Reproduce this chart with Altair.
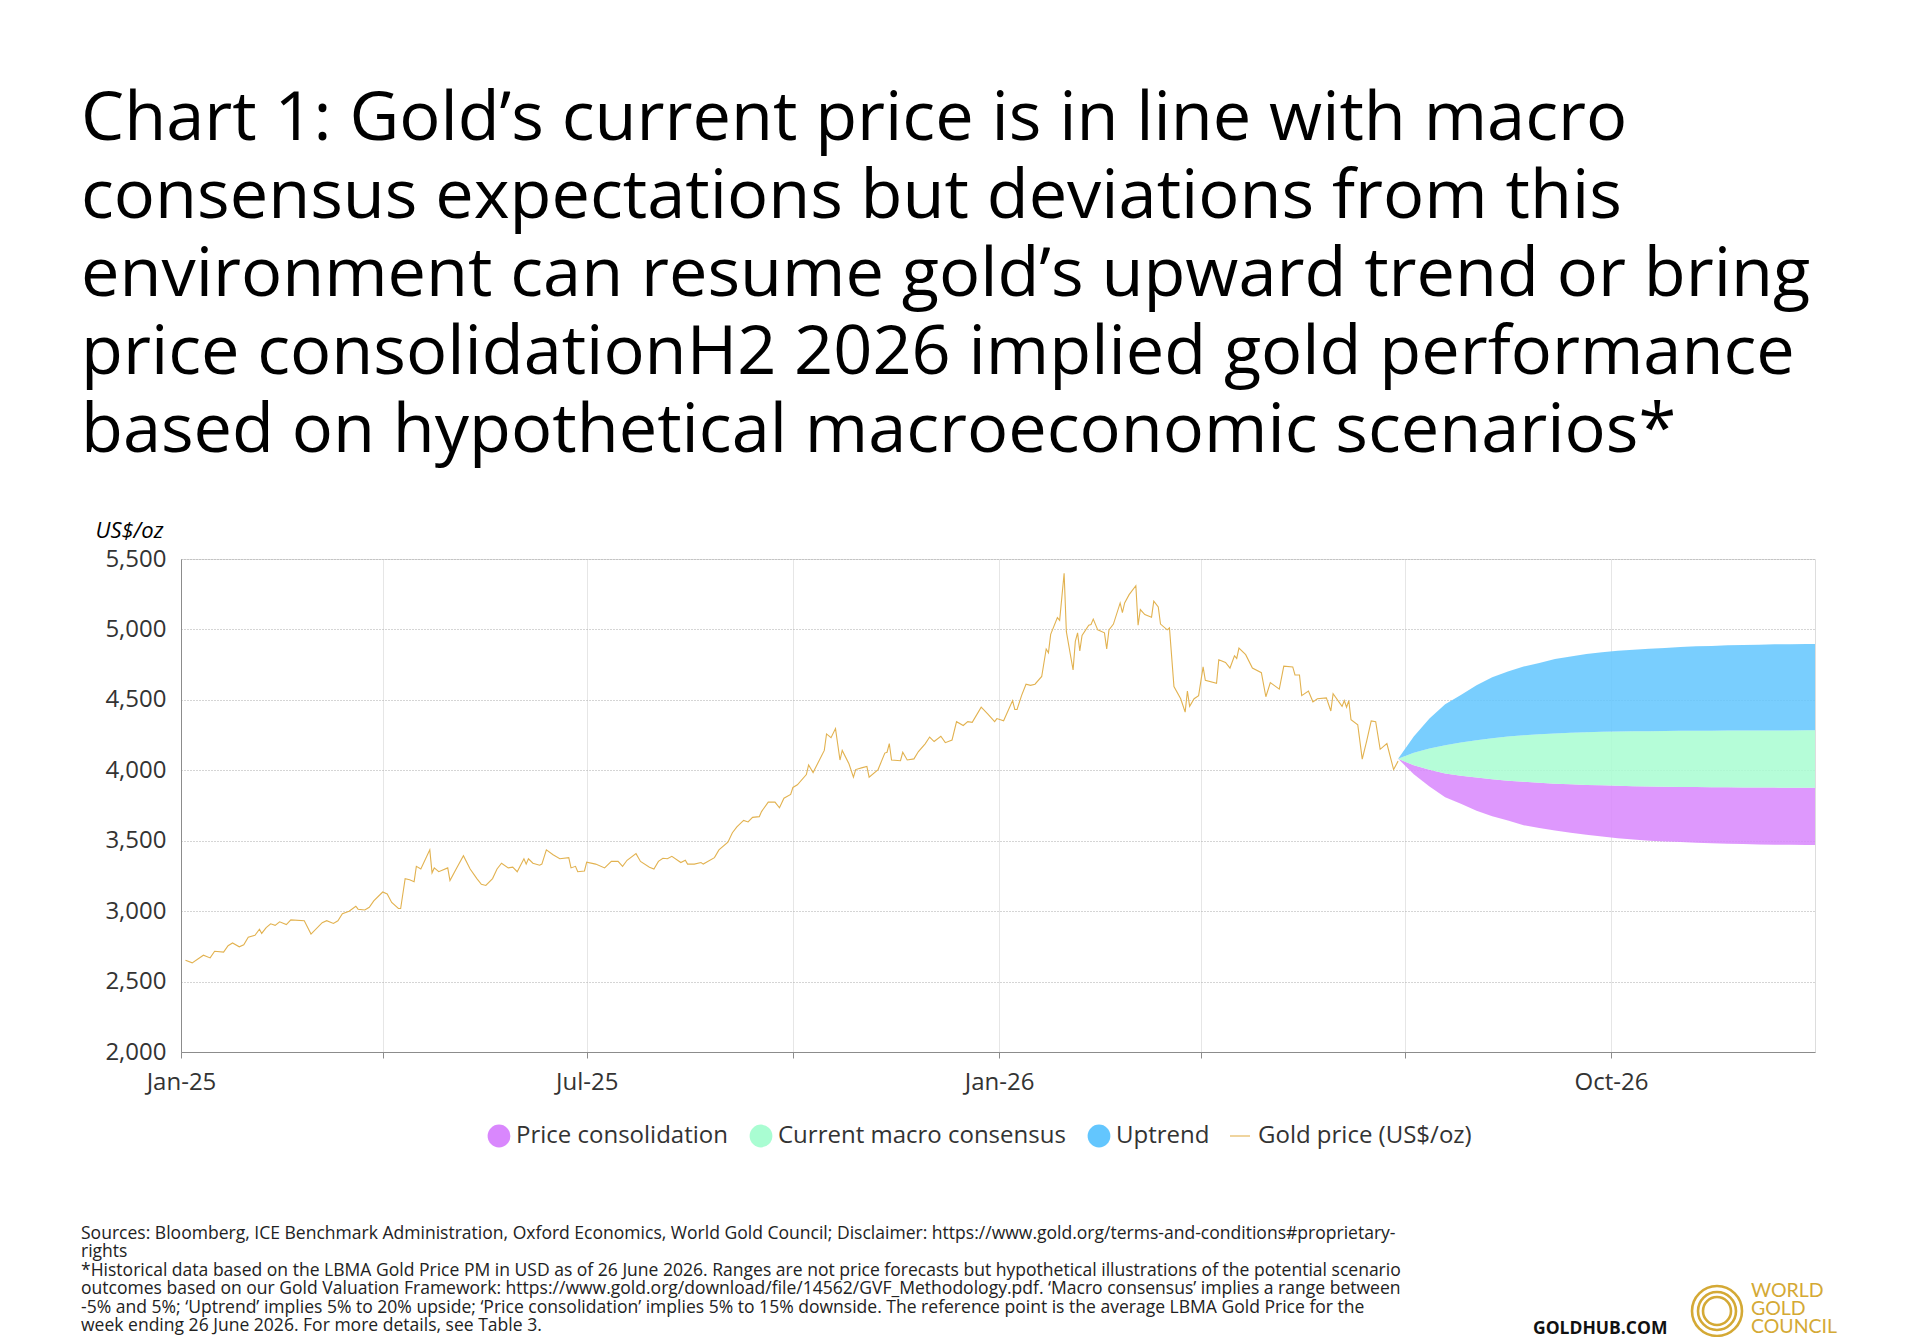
import altair as alt
import pandas as pd

# ---------------- data ----------------
title_lines = [
    "Chart 1: Gold\u2019s current price is in line with macro",
    "consensus expectations but deviations from this",
    "environment can resume gold\u2019s upward trend or bring",
    "price consolidationH2 2026 implied gold performance",
    "based on hypothetical macroeconomic scenarios*",
]

# historical gold price: days since 2025-01-01 and US$/oz
hist_days = [2, 5, 10, 13, 15, 19, 21, 23, 26, 28, 30, 33, 35, 36, 38, 40, 42, 44, 47, 49,
             55, 58, 63, 65, 68, 70, 72, 75, 78, 79, 82, 84, 86, 90, 92, 94, 97, 98, 100, 102,
             104, 105, 107, 111, 112, 113, 115, 119, 120, 123, 126, 129, 132, 134, 136, 139, 141, 143, 146, 148,
             150, 153, 154, 155, 157, 160, 161, 163, 166, 169, 173, 174, 176, 177, 180, 181, 185, 189, 192, 195,
             197, 199, 203, 205, 209, 211, 213, 215, 217, 219, 223, 225, 226, 229, 232, 233, 238, 240, 244, 246,
             248, 251, 253, 255, 258, 259, 262, 265, 267, 269, 272, 273, 275, 279, 280, 282, 287, 288, 290, 292,
             294, 295, 298, 300, 301, 304, 306, 307, 311, 314, 315, 316, 317, 321, 322, 324, 327, 329, 332, 334,
             336, 339, 341, 344, 346, 349, 351, 353, 357, 360, 363, 364, 367, 371, 372, 373, 375, 377, 379, 381,
             384, 386, 387, 388, 391, 392, 394, 395, 398, 399, 400, 401, 402, 405, 406, 407, 409, 412, 413, 414,
             416, 419, 420, 421, 423, 426, 427, 428, 430, 433, 434, 436, 437, 440, 441, 443, 446, 448, 449, 450,
             452, 454, 456, 457, 462, 463, 466, 468, 470, 471, 472, 475, 478, 482, 484, 486, 490, 492, 496, 497,
             499, 500, 503, 505, 507, 511, 513, 514, 518, 519, 520, 521, 522, 525, 527, 529, 531, 533, 535, 538,
             541, 543]
hist_price = [2652, 2633, 2687, 2668, 2715, 2709, 2755, 2774, 2747, 2761, 2815, 2829, 2872, 2842, 2883, 2910, 2899, 2924, 2905, 2938,
              2932, 2837, 2918, 2932, 2913, 2932, 2981, 3000, 3035, 3014, 3008, 3027, 3073, 3136, 3122, 3062, 3019, 3019, 3231, 3223,
              3209, 3318, 3299, 3435, 3272, 3307, 3280, 3307, 3217, 3307, 3394, 3299, 3231, 3190, 3182, 3231, 3299, 3340, 3307, 3312,
              3280, 3372, 3334, 3372, 3340, 3326, 3334, 3435, 3400, 3372, 3380, 3307, 3318, 3280, 3285, 3348, 3334, 3307, 3353, 3353,
              3318, 3361, 3408, 3353, 3312, 3299, 3353, 3375, 3372, 3389, 3345, 3361, 3334, 3334, 3345, 3334, 3380, 3435, 3489, 3557,
              3598, 3644, 3633, 3666, 3671, 3707, 3774, 3774, 3734, 3802, 3829, 3878, 3897, 3970, 4038, 3984, 4141, 4258, 4231, 4296,
              4073, 4141, 4046, 3951, 4005, 4019, 4027, 3951, 4005, 4122, 4128, 4190, 4073, 4068, 4128, 4073, 4081, 4133, 4188, 4236,
              4204, 4242, 4196, 4215, 4345, 4318, 4345, 4340, 4448, 4399, 4345, 4367, 4351, 4495, 4432, 4432, 4530, 4611, 4603, 4611,
              4666, 4861, 4834, 4965, 5084, 5065, 5399, 4984, 4712, 4916, 4976, 4848, 4957, 5030, 5035, 5073, 4997, 4976, 4861, 4997,
              5038, 5188, 5120, 5188, 5247, 5310, 5030, 5141, 5106, 5087, 5201, 5160, 5038, 4997, 5011, 4595, 4508, 4413, 4563, 4454,
              4508, 4530, 4734, 4639, 4617, 4785, 4766, 4726, 4813, 4794, 4867, 4821, 4726, 4693, 4522, 4622, 4576, 4739, 4734, 4677,
              4677, 4530, 4563, 4486, 4508, 4514, 4421, 4543, 4454, 4495, 4448, 4495, 4359, 4323, 4079, 4209, 4351, 4345, 4149, 4190,
              4005, 4065]

proj_dates = ["2026-06-28", "2026-07-05", "2026-07-12", "2026-07-19", "2026-07-26", "2026-08-02", "2026-08-09",
              "2026-08-16", "2026-08-23", "2026-08-30", "2026-09-06", "2026-09-13", "2026-09-20", "2026-09-27",
              "2026-10-04", "2026-10-11", "2026-10-18", "2026-10-25", "2026-11-01", "2026-11-08", "2026-11-15",
              "2026-11-22", "2026-11-29", "2026-12-06", "2026-12-13", "2026-12-20", "2026-12-27", "2026-12-31"]
uptrend_hi = [4082, 4240, 4368, 4468, 4535, 4603, 4660, 4702, 4737, 4762, 4790, 4808, 4825, 4838,
              4848, 4856, 4863, 4869, 4875, 4880, 4883, 4887, 4889, 4892, 4894, 4895, 4896, 4897]
consensus_hi = [4082, 4125, 4155, 4178, 4198, 4214, 4228, 4239, 4248, 4256, 4261, 4266, 4270, 4273,
                4275, 4277, 4278, 4279, 4280, 4281, 4281, 4282, 4282, 4283, 4283, 4283, 4284, 4284]
consensus_lo = [4082, 4035, 4003, 3978, 3962, 3948, 3936, 3926, 3918, 3911, 3905, 3900, 3896, 3893,
                3890, 3887, 3885, 3883, 3882, 3881, 3880, 3879, 3878, 3877, 3877, 3876, 3876, 3876]
consolidation_lo = [4082, 3972, 3885, 3808, 3762, 3712, 3674, 3643, 3610, 3590, 3572, 3556, 3542, 3530,
                    3518, 3508, 3500, 3495, 3490, 3486, 3482, 3479, 3476, 3474, 3472, 3471, 3470, 3469]

scenario_names = ["Price consolidation", "Current macro consensus", "Uptrend"]
scenario_colors = ["#D987FD", "#A9FDD2", "#63C6FE"]
gold_label = "Gold price (US$/oz)"
gold_color = "#E2B250"

x_tick_dates = ["2025-01-01", "2025-04-01", "2025-07-01", "2025-10-01", "2026-01-01",
                "2026-04-01", "2026-07-01", "2026-10-01"]
x_labels_shown = ["Jan-25", "Jul-25", "Jan-26", "Oct-26"]
y_ticks = [2000, 2500, 3000, 3500, 4000, 4500, 5000, 5500]

footer_lines = [
    "Sources: Bloomberg, ICE Benchmark Administration, Oxford Economics, World Gold Council; Disclaimer: https://www.gold.org/terms-and-conditions#proprietary-",
    "rights",
    "*Historical data based on the LBMA Gold Price PM in USD as of 26 June 2026. Ranges are not price forecasts but hypothetical illustrations of the potential scenario",
    "outcomes based on our Gold Valuation Framework: https://www.gold.org/download/file/14562/GVF_Methodology.pdf. \u2018Macro consensus\u2019 implies a range between",
    "-5% and 5%; \u2018Uptrend\u2019 implies 5% to 20% upside; \u2018Price consolidation\u2019 implies 5% to 15% downside. The reference point is the average LBMA Gold Price for the",
    "week ending 26 June 2026. For more details, see Table 3.",
]
brand_text = "GOLDHUB.COM"
logo_text = ["WORLD", "GOLD", "COUNCIL"]
logo_ring_sizes = [2500, 1444, 784]

# ---------------- tables ----------------
start = pd.Timestamp("2025-01-01")
hist = pd.DataFrame({
    "date": [(start + pd.Timedelta(days=d)).strftime("%Y-%m-%d") for d in hist_days],
    "price": hist_price,
    "series": gold_label,
})
bands = pd.concat([
    pd.DataFrame({"date": proj_dates, "lo": consolidation_lo, "hi": consensus_lo, "scenario": scenario_names[0]}),
    pd.DataFrame({"date": proj_dates, "lo": consensus_lo, "hi": consensus_hi, "scenario": scenario_names[1]}),
    pd.DataFrame({"date": proj_dates, "lo": consensus_hi, "hi": uptrend_hi, "scenario": scenario_names[2]}),
], ignore_index=True)

FONT = "Open Sans"


def dt(s):
    y, m, d = (int(v) for v in s.split("-"))
    return alt.DateTime(year=y, month=m, date=d, utc=True)


x_scale = alt.Scale(type="utc", domain=[dt("2025-01-01"), dt("2026-12-31")], nice=False)
shown = ",".join("'%s'" % s for s in x_labels_shown)
x_axis = alt.Axis(
    values=[dt(s) for s in x_tick_dates],
    labelExpr="indexof([%s], utcFormat(datum.value, '%%b-%%y')) >= 0 ? utcFormat(datum.value, '%%b-%%y') : ''" % shown,
    title=None, grid=True, gridColor="#e6e6e6", gridWidth=1,
    domainColor="#8c8c8c", tickColor="#8c8c8c", tickSize=6,
    labelFontSize=24, labelColor="#333333", labelFont=FONT, labelPadding=12,
    labelFlush=False,
)
y_scale = alt.Scale(domain=[2000, 5500], nice=False, zero=False)
y_axis = alt.Axis(
    values=y_ticks, format=",.0f", title="US$/oz", titleAngle=0, titleFont=FONT,
    titleFontStyle="italic", titleFontWeight="normal", titleFontSize=22, titleColor="#000000",
    titleAlign="left", titleBaseline="alphabetic", titleX=-86, titleY=-22,
    grid=True, gridColor="#aaaaaa", gridDash=[1, 2], gridWidth=1,
    domainColor="#8c8c8c", ticks=False, labelPadding=15,
    labelFontSize=24, labelColor="#333333", labelFont=FONT,
)

areas = alt.Chart(bands).mark_area(fillOpacity=0.86, interpolate="linear").encode(
    x=alt.X("date:T", scale=x_scale, axis=x_axis),
    y=alt.Y("lo:Q", scale=y_scale, axis=y_axis),
    y2="hi:Q",
    color=alt.Color(
        "scenario:N",
        scale=alt.Scale(domain=scenario_names, range=scenario_colors),
        legend=alt.Legend(
            title=None, orient="none", direction="horizontal", legendX=306, legendY=565,
            symbolType="circle", symbolSize=520, symbolOpacity=1, symbolStrokeWidth=0,
            labelFontSize=24, labelFont=FONT, labelColor="#333333", labelOffset=5,
            labelLimit=500, columnPadding=21, padding=0,
        ),
    ),
)

line = alt.Chart(hist).mark_line(strokeWidth=1.1, interpolate="linear").encode(
    x=alt.X("date:T", scale=x_scale, axis=x_axis),
    y=alt.Y("price:Q", scale=y_scale, axis=y_axis),
    stroke=alt.Stroke(
        "series:N",
        scale=alt.Scale(domain=[gold_label], range=[gold_color]),
        legend=alt.Legend(
            title=None, orient="none", direction="horizontal", legendX=1047, legendY=565,
            symbolType="stroke", symbolSize=400, symbolOpacity=0.55, symbolStrokeWidth=2,
            labelFontSize=24, labelFont=FONT, labelColor="#333333", labelOffset=6,
            labelLimit=500, padding=0,
        ),
    ),
)

footer = alt.Chart(pd.DataFrame({"t": ["\n".join(footer_lines)]})).mark_text(
    align="left", baseline="alphabetic", font=FONT, fontSize=17.55, color="#222222",
    lineBreak="\n", lineHeight=18.4,
).encode(x=alt.value(-100), y=alt.value(680), text="t:N")

brand = alt.Chart(pd.DataFrame({"t": [brand_text]})).mark_text(
    align="left", baseline="alphabetic", font=FONT, fontSize=17.5, fontWeight="bold", color="#111111",
).encode(x=alt.value(1352), y=alt.value(775), text="t:N")

logo_layers = [
    alt.Chart(pd.DataFrame({"t": [word]})).mark_text(
        align="left", baseline="alphabetic", font="Lato", fontSize=19.5, color="#D4A935",
    ).encode(x=alt.value(1570), y=alt.value(737.5 + 18.3 * i), text="t:N")
    for i, word in enumerate(logo_text)
]

rings = alt.Chart(pd.DataFrame({"s": logo_ring_sizes})).mark_point(
    shape="circle", filled=False, color="#D4A935", strokeWidth=2.6, opacity=1,
).encode(x=alt.value(1536), y=alt.value(752), size=alt.Size("s:Q", scale=None, legend=None))

chart = alt.layer(areas, line, footer, brand, *logo_layers, rings).resolve_scale(
    color="independent", stroke="independent"
).properties(
    width=1634, height=493,
    title=alt.TitleParams(
        text=title_lines, anchor="start", frame="bounds", font=FONT, fontSize=68.5,
        fontWeight="normal", color="#000000", lineHeight=78, offset=53,
    ),
    padding={"left": 81, "top": 84, "right": 20, "bottom": 2},
).configure_view(stroke=None).configure(background="white")

chart.save("out.html", embed_options={"renderer": "svg", "actions": False})
